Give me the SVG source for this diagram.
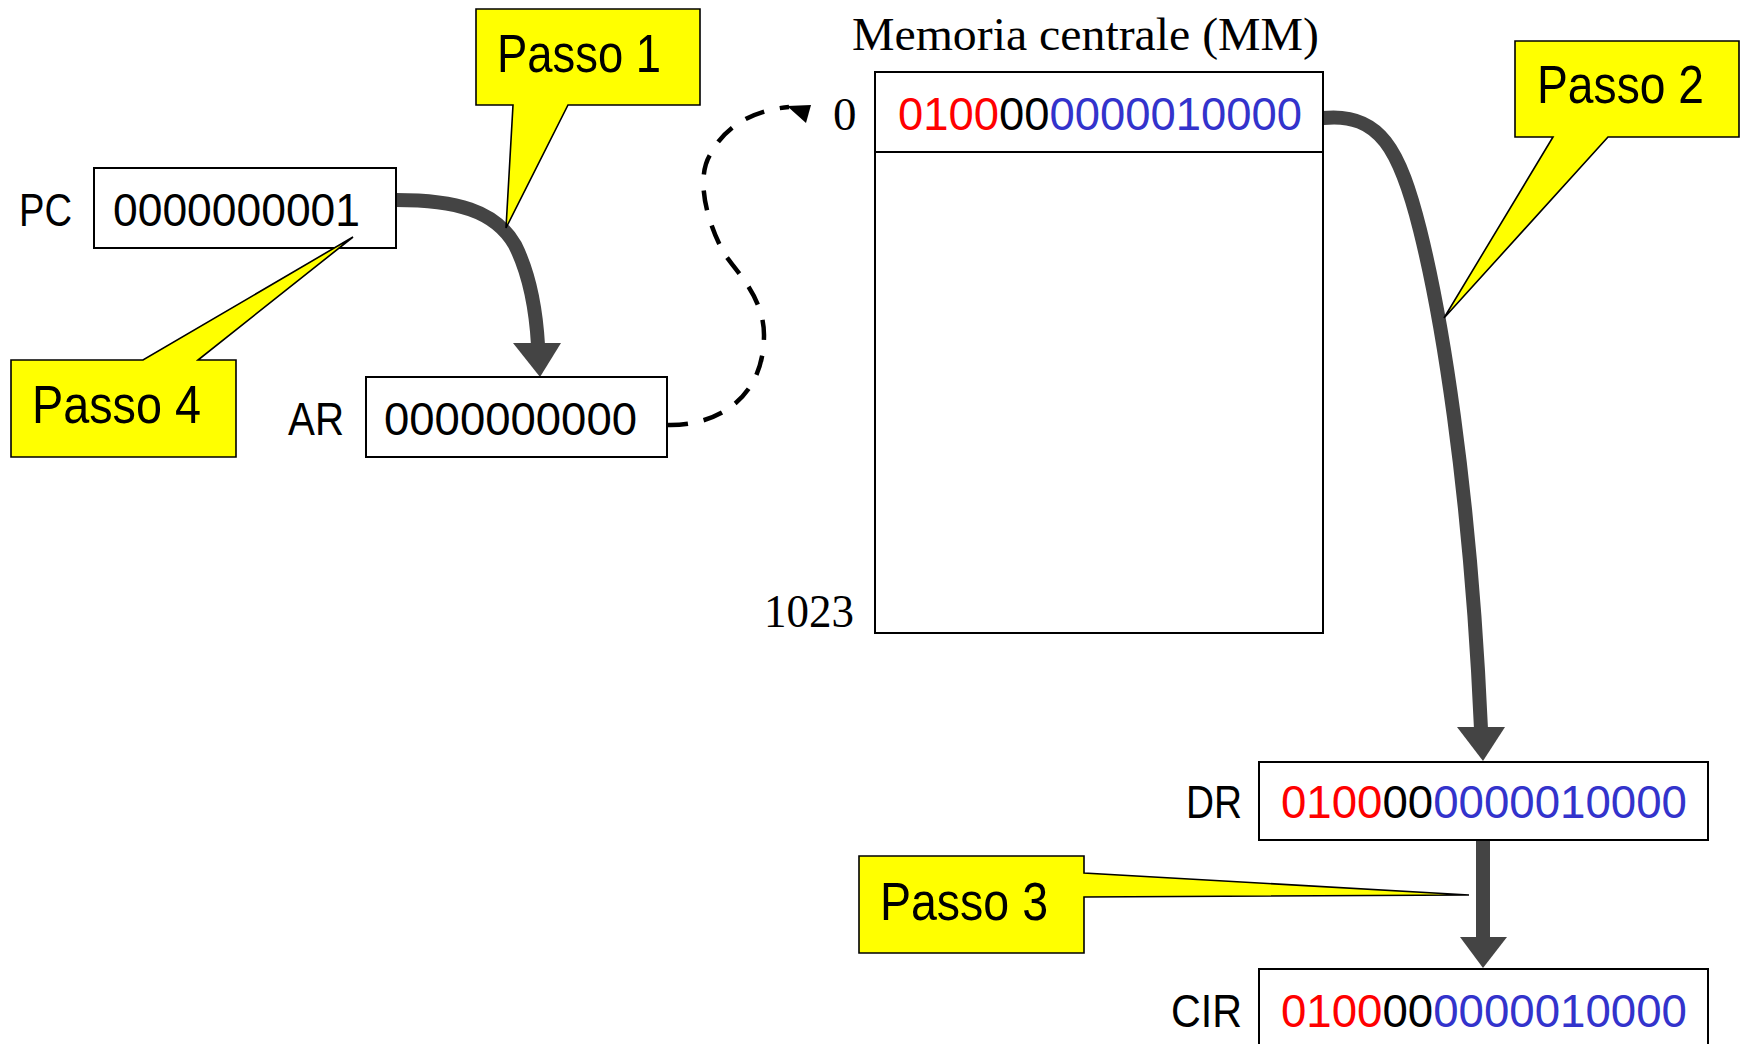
<svg xmlns="http://www.w3.org/2000/svg" width="1743" height="1044" viewBox="0 0 1743 1044">
<style>
.box{fill:#fff;stroke:#000;stroke-width:2}
.call{fill:#ffff00;stroke:#000;stroke-width:1.6;stroke-linejoin:miter}
.sans{font-family:"Liberation Sans",Arial,sans-serif;font-size:47px;fill:#000}
.big{font-family:"Liberation Sans",Arial,sans-serif;font-size:54px;fill:#000}
.serif{font-family:"Liberation Serif","Times New Roman",serif;font-size:47px;fill:#000}
.r{fill:#ff0000}.k{fill:#000}.b{fill:#3333cc}
.thick{fill:none;stroke:#444;stroke-width:14}
.head{fill:#444}
.dash{fill:none;stroke:#000;stroke-width:4.5;stroke-dasharray:20 16}
</style>
<rect width="1743" height="1044" fill="#fff"/>

<g id="connectors">
  <path class="thick" d="M396,200 C455,200 495,210 515,245 C530,275 536,310 538,345"/>
  <polygon class="head" points="513,343 561,343 540,377"/>
  <path class="dash" d="M668,425 C715,426 764,400 764,335 C764,300 740,275 725,255 C708,225 695,180 710,155 C725,125 755,110 789,107"/>
  <polygon points="787,106 811,105 806,123" fill="#000"/>
  <path class="thick" d="M1323,118 C1380,112 1400,150 1420,230 C1440,310 1470,480 1481,729"/>
  <polygon class="head" points="1457,727 1505,727 1483,761"/>
  <path class="thick" d="M1483,840 V939"/>
  <polygon class="head" points="1460,937 1507,937 1483,968"/>
</g>

<g id="pc">
  <text class="sans" x="19" y="226" textLength="53" lengthAdjust="spacingAndGlyphs">PC</text>
  <rect class="box" x="94" y="168" width="302" height="80"/>
  <text class="sans" x="113" y="226" textLength="247" lengthAdjust="spacingAndGlyphs">0000000001</text>
</g>

<g id="ar">
  <text class="sans" x="288" y="435" textLength="56" lengthAdjust="spacingAndGlyphs">AR</text>
  <rect class="box" x="366" y="377" width="301" height="80"/>
  <text class="sans" x="384" y="435" textLength="253" lengthAdjust="spacingAndGlyphs">0000000000</text>
</g>

<g id="memory">
  <text class="serif" x="852" y="50" font-size="48" textLength="467" lengthAdjust="spacingAndGlyphs">Memoria centrale (MM)</text>
  <text class="serif" x="833" y="130">0</text>
  <text class="serif" x="764" y="627" textLength="90" lengthAdjust="spacingAndGlyphs">1023</text>
  <rect class="box" x="875" y="72" width="448" height="561"/>
  <line x1="875" y1="152" x2="1323" y2="152" stroke="#000" stroke-width="2"/>
  <text class="sans" x="898" y="130" textLength="404" lengthAdjust="spacingAndGlyphs"><tspan class="r">0100</tspan><tspan class="k">00</tspan><tspan class="b">0000010000</tspan></text>
</g>

<g id="dr">
  <text class="sans" x="1186" y="818" textLength="56" lengthAdjust="spacingAndGlyphs">DR</text>
  <rect class="box" x="1259" y="762" width="449" height="78"/>
  <text class="sans" x="1281" y="818" textLength="406" lengthAdjust="spacingAndGlyphs"><tspan class="r">0100</tspan><tspan class="k">00</tspan><tspan class="b">0000010000</tspan></text>
</g>

<g id="cir">
  <text class="sans" x="1171" y="1027" textLength="71" lengthAdjust="spacingAndGlyphs">CIR</text>
  <rect class="box" x="1259" y="969" width="449" height="90"/>
  <text class="sans" x="1281" y="1027" textLength="406" lengthAdjust="spacingAndGlyphs"><tspan class="r">0100</tspan><tspan class="k">00</tspan><tspan class="b">0000010000</tspan></text>
</g>

<g id="passo1">
  <path class="call" d="M476,9 H700 V105 H568 L506,228 L513,105 H476 Z"/>
  <text class="big" x="497" y="72" textLength="164" lengthAdjust="spacingAndGlyphs">Passo 1</text>
</g>

<g id="passo2">
  <path class="call" d="M1515,41 H1739 V137 H1608 L1444,318 L1553,137 H1515 Z"/>
  <text class="big" x="1537" y="103" textLength="167" lengthAdjust="spacingAndGlyphs">Passo 2</text>
</g>

<g id="passo3">
  <path class="call" d="M859,856 H1084 V873 L1469,895 L1084,897 V953 H859 Z"/>
  <text class="big" x="880" y="920" textLength="168" lengthAdjust="spacingAndGlyphs">Passo 3</text>
</g>

<g id="passo4">
  <path class="call" d="M11,360 H143 L353,237 L198,360 H236 V457 H11 Z"/>
  <text class="big" x="32" y="423" textLength="169" lengthAdjust="spacingAndGlyphs">Passo 4</text>
</g>
</svg>
